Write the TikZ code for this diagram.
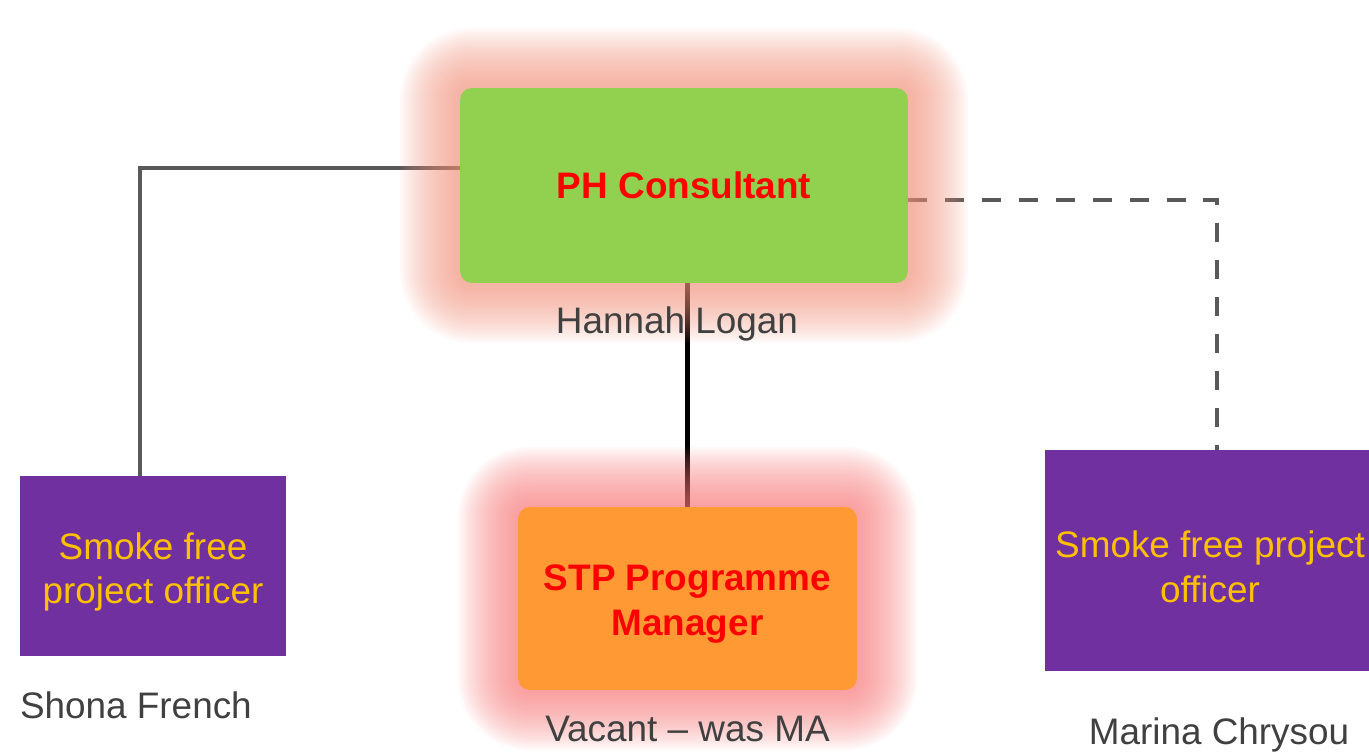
\documentclass[tikz,border=0pt]{standalone}
\usepackage{fontspec}
\setmainfont{Liberation Sans}
\usetikzlibrary{positioning}
\definecolor{phgreen}{HTML}{92D050}
\definecolor{stporange}{HTML}{FF9933}
\definecolor{sfpurple}{HTML}{7030A0}
\definecolor{sfgold}{HTML}{FFC000}
\definecolor{namegray}{HTML}{404040}
\definecolor{linegray}{HTML}{595959}
\definecolor{phglow}{RGB}{241,147,125}
\definecolor{stpglow}{RGB}{247,121,121}
\pgfdeclarelayer{links}
\pgfdeclarelayer{glow}
\pgfsetlayers{links,glow,main}

\begin{document}
\begin{tikzpicture}[x=0.02cm,y=-0.02cm,
	font=\fontsize{21}{25.5}\selectfont,
	post/.style={rectangle,inner sep=0pt,align=center},
	lead/.style={post,rounded corners=0.24cm,text=red,font=\fontsize{21}{25.5}\selectfont\bfseries},
	officer/.style={post,fill=sfpurple,text=sfgold},
	person/.style={inner sep=0pt,text=namegray},
	link/.style={draw=linegray,line width=0.09cm}]
	\useasboundingbox (0,0) rectangle (1369,752);
	\clip (0,0) rectangle (1369,752);

	\node[lead,fill=phgreen,minimum width=8.96cm,minimum height=3.9cm] (ph) at (684,185.5) {PH Consultant};
	\node[lead,fill=stporange,minimum width=6.78cm,minimum height=3.66cm] (stp) at (687.5,598.5) {\rule{0pt}{21pt}STP Programme\\Manager};
	\node[officer,minimum width=5.32cm,minimum height=3.6cm] (sf1) at (153,566) {\rule{0pt}{22pt}Smoke free\\project officer};
	\node[officer,minimum width=6.6cm,minimum height=4.42cm] (sf2) at (1210,560.5) {\rule{0pt}{22pt}Smoke free project\\officer};

	\node[person,below=0.46cm of ph,xshift=-0.14cm] (hl) {Hannah Logan};
	\node[person,below=0.5cm of stp] (vac) {Vacant – was MA};
	\node[person,below right=0.7cm and 0cm of sf1.south west] (sfn) {Shona French};
	\node[person,below=0.92cm of sf2,xshift=0.18cm] (mc) {Marina Chrysou};

	% glow round the two upper posts
	\begin{pgfonlayer}{glow}
		\foreach \r [evaluate=\r as \rc using 0.24+0.02*\r] in {2,4,...,60} {
			\fill[phglow,opacity=0.04,rounded corners=\rc cm] ([shift={(-\r,-\r)}]ph.north west) rectangle ([shift={(\r,\r)}]ph.south east);
			\fill[stpglow,opacity=0.04,rounded corners=\rc cm] ([shift={(-\r,-\r)}]stp.north west) rectangle ([shift={(\r,\r)}]stp.south east);
		}
	\end{pgfonlayer}

	\begin{pgfonlayer}{links}
		\draw[link] ([yshift=0.35cm]ph.west) -| ([xshift=-0.26cm]sf1.north);
		\draw[link,draw=black] (stp.north |- ph.south) -- (stp.north);
		\draw[link,dash pattern=on 10.8pt off 10.2pt] ([yshift=-0.29cm]ph.east) -| ([xshift=0.14cm]sf2.north);
	\end{pgfonlayer}
\end{tikzpicture}
\end{document}
